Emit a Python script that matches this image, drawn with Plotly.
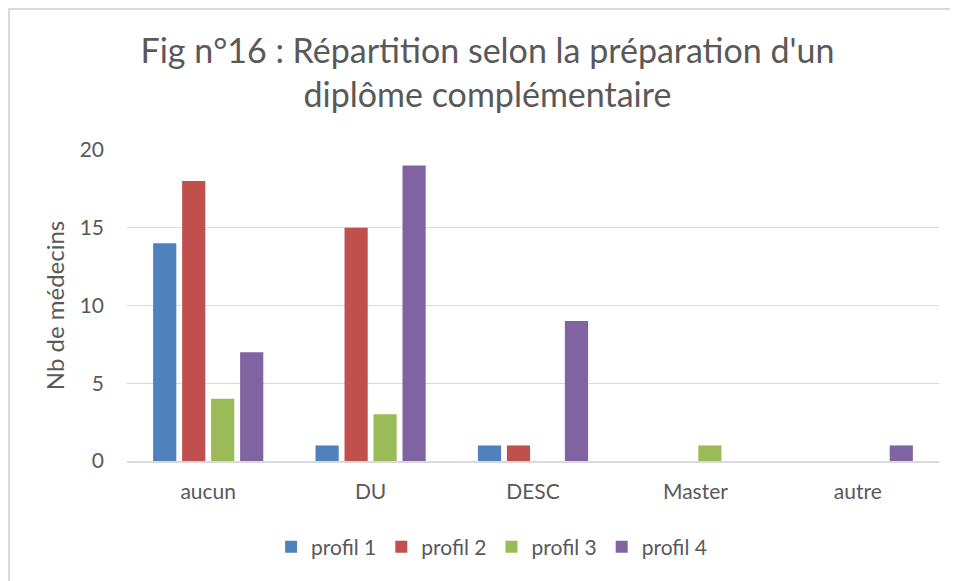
import plotly.graph_objects as go

categories = ["aucun", "DU", "DESC", "Master", "autre"]
series_names = ["profil 1", "profil 2", "profil 3", "profil 4"]
profil1 = [14, 1, 1, 0, 0]
profil2 = [18, 15, 1, 0, 0]
profil3 = [4, 3, 0, 1, 0]
profil4 = [7, 19, 9, 0, 1]
colors = ["#4F81BD", "#C0504D", "#9BBB59", "#8064A2"]
yticks = [0, 5, 10, 15, 20]

FONT = "Lato, 'Open Sans', sans-serif"
GREY = "#595959"

fig = go.Figure()
for name, vals, col in zip(series_names, [profil1, profil2, profil3, profil4], colors):
    fig.add_trace(go.Bar(name=name, x=categories, y=vals, marker_color=col,
                         marker_line_width=0))

fig.update_layout(
    width=950, height=573,
    paper_bgcolor="white", plot_bgcolor="white",
    margin=dict(l=119, r=19, t=142, b=120),
    barmode="group", bargap=0.286, bargroupgap=0.2,
    font=dict(family=FONT, color=GREY, size=21),
    title=dict(text="Fig n°16 : Répartition selon la préparation d'un<br>diplôme complémentaire",
               x=0.5047, xanchor="center", y=0.904, yanchor="middle",
               font=dict(size=34, color=GREY, family=FONT)),
    showlegend=True,
    legend=dict(orientation="h", x=0.449, xanchor="center", y=-0.2765, yanchor="middle",
                font=dict(size=21, color=GREY), itemwidth=30, traceorder="normal"),
    xaxis=dict(showgrid=False, showline=True, linecolor="#D9D9D9", linewidth=1.5,
               ticks="", ticklabelstandoff=11, tickfont=dict(size=21, color=GREY)),
    yaxis=dict(range=[0, 20], tickvals=yticks, showgrid=True, gridcolor="#D9D9D9",
               gridwidth=1, zeroline=False, showline=False, ticks="",
               ticklabelstandoff=22,
               tickfont=dict(size=21, color=GREY),
               title=dict(text="Nb de médecins", font=dict(size=24, color=GREY), standoff=8)),
    shapes=[dict(type="rect", xref="paper", yref="paper", x0=-0.1459, x1=1.036,
                 y0=-0.424, y1=1.455, line=dict(color="#D9D9D9", width=3))],
)

fig.write_html("out.html")
